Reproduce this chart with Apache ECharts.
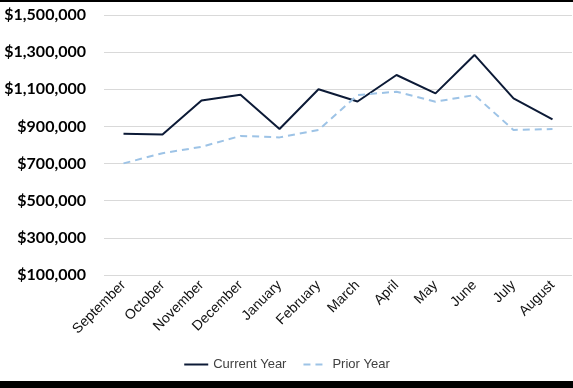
<!DOCTYPE html>
<html>
<head>
<meta charset="utf-8">
<script src="https://cdn.jsdelivr.net/npm/echarts@6/dist/echarts.min.js"></script>
<style>
html,body{margin:0;padding:0;background:#000;width:573px;height:388px;overflow:hidden;}
#c{position:absolute;left:0;top:2px;width:573px;height:379px;background:#fff;}
</style>
</head>
<body>
<div id="c"></div>
<script>
const categories = ['September','October','November','December','January','February','March','April','May','June','July','August'];
const currentYear = [860000, 856000, 1040000, 1070000, 886000, 1100000, 1034000, 1177000, 1078000, 1285000, 1051000, 938000];
const priorYear = [701000, 756000, 790000, 849000, 841000, 881000, 1069000, 1087000, 1033000, 1069000, 881000, 886000];
const yTicks = [100000, 300000, 500000, 700000, 900000, 1100000, 1300000, 1500000];

const chart = echarts.init(document.getElementById('c'));
chart.setOption({
  animation: false,
  backgroundColor: '#fff',
  grid: {left: 104, right: 1, top: 13, bottom: 106},
  legend: {
    bottom: 5, left: 'center',
    itemWidth: 24, itemHeight: 10, itemGap: 16,
    itemStyle: {opacity: 0},
    textStyle: {fontFamily: 'Liberation Sans', fontSize: 13, color: '#404040'},
    data: ['Current Year', 'Prior Year']
  },
  xAxis: {
    type: 'category',
    data: categories,
    boundaryGap: true,
    axisLine: {show: false},
    axisTick: {show: false},
    axisLabel: {rotate: 45, interval: 0, fontFamily: 'Liberation Sans', fontSize: 14, color: '#111', margin: 8}
  },
  yAxis: {
    type: 'value',
    min: yTicks[0], max: yTicks[yTicks.length - 1], interval: 200000,
    axisLine: {show: false},
    axisTick: {show: false},
    splitLine: {lineStyle: {color: '#d9d9d9', width: 1}},
    axisLabel: {
      fontFamily: 'Lato', fontWeight: 'bold', fontSize: 16, color: '#000', margin: 18,
      formatter: v => '$' + v.toLocaleString('en-US')
    }
  },
  series: [
    {name: 'Current Year', type: 'line', data: currentYear, symbol: 'none',
     lineStyle: {color: '#0c1a36', width: 2}, itemStyle: {color: '#0c1a36'}},
    {name: 'Prior Year', type: 'line', data: priorYear, symbol: 'none',
     lineStyle: {color: '#9dc3e6', width: 2, type: [7, 5]}, itemStyle: {color: '#9dc3e6'}}
  ]
});
</script>
</body>
</html>
